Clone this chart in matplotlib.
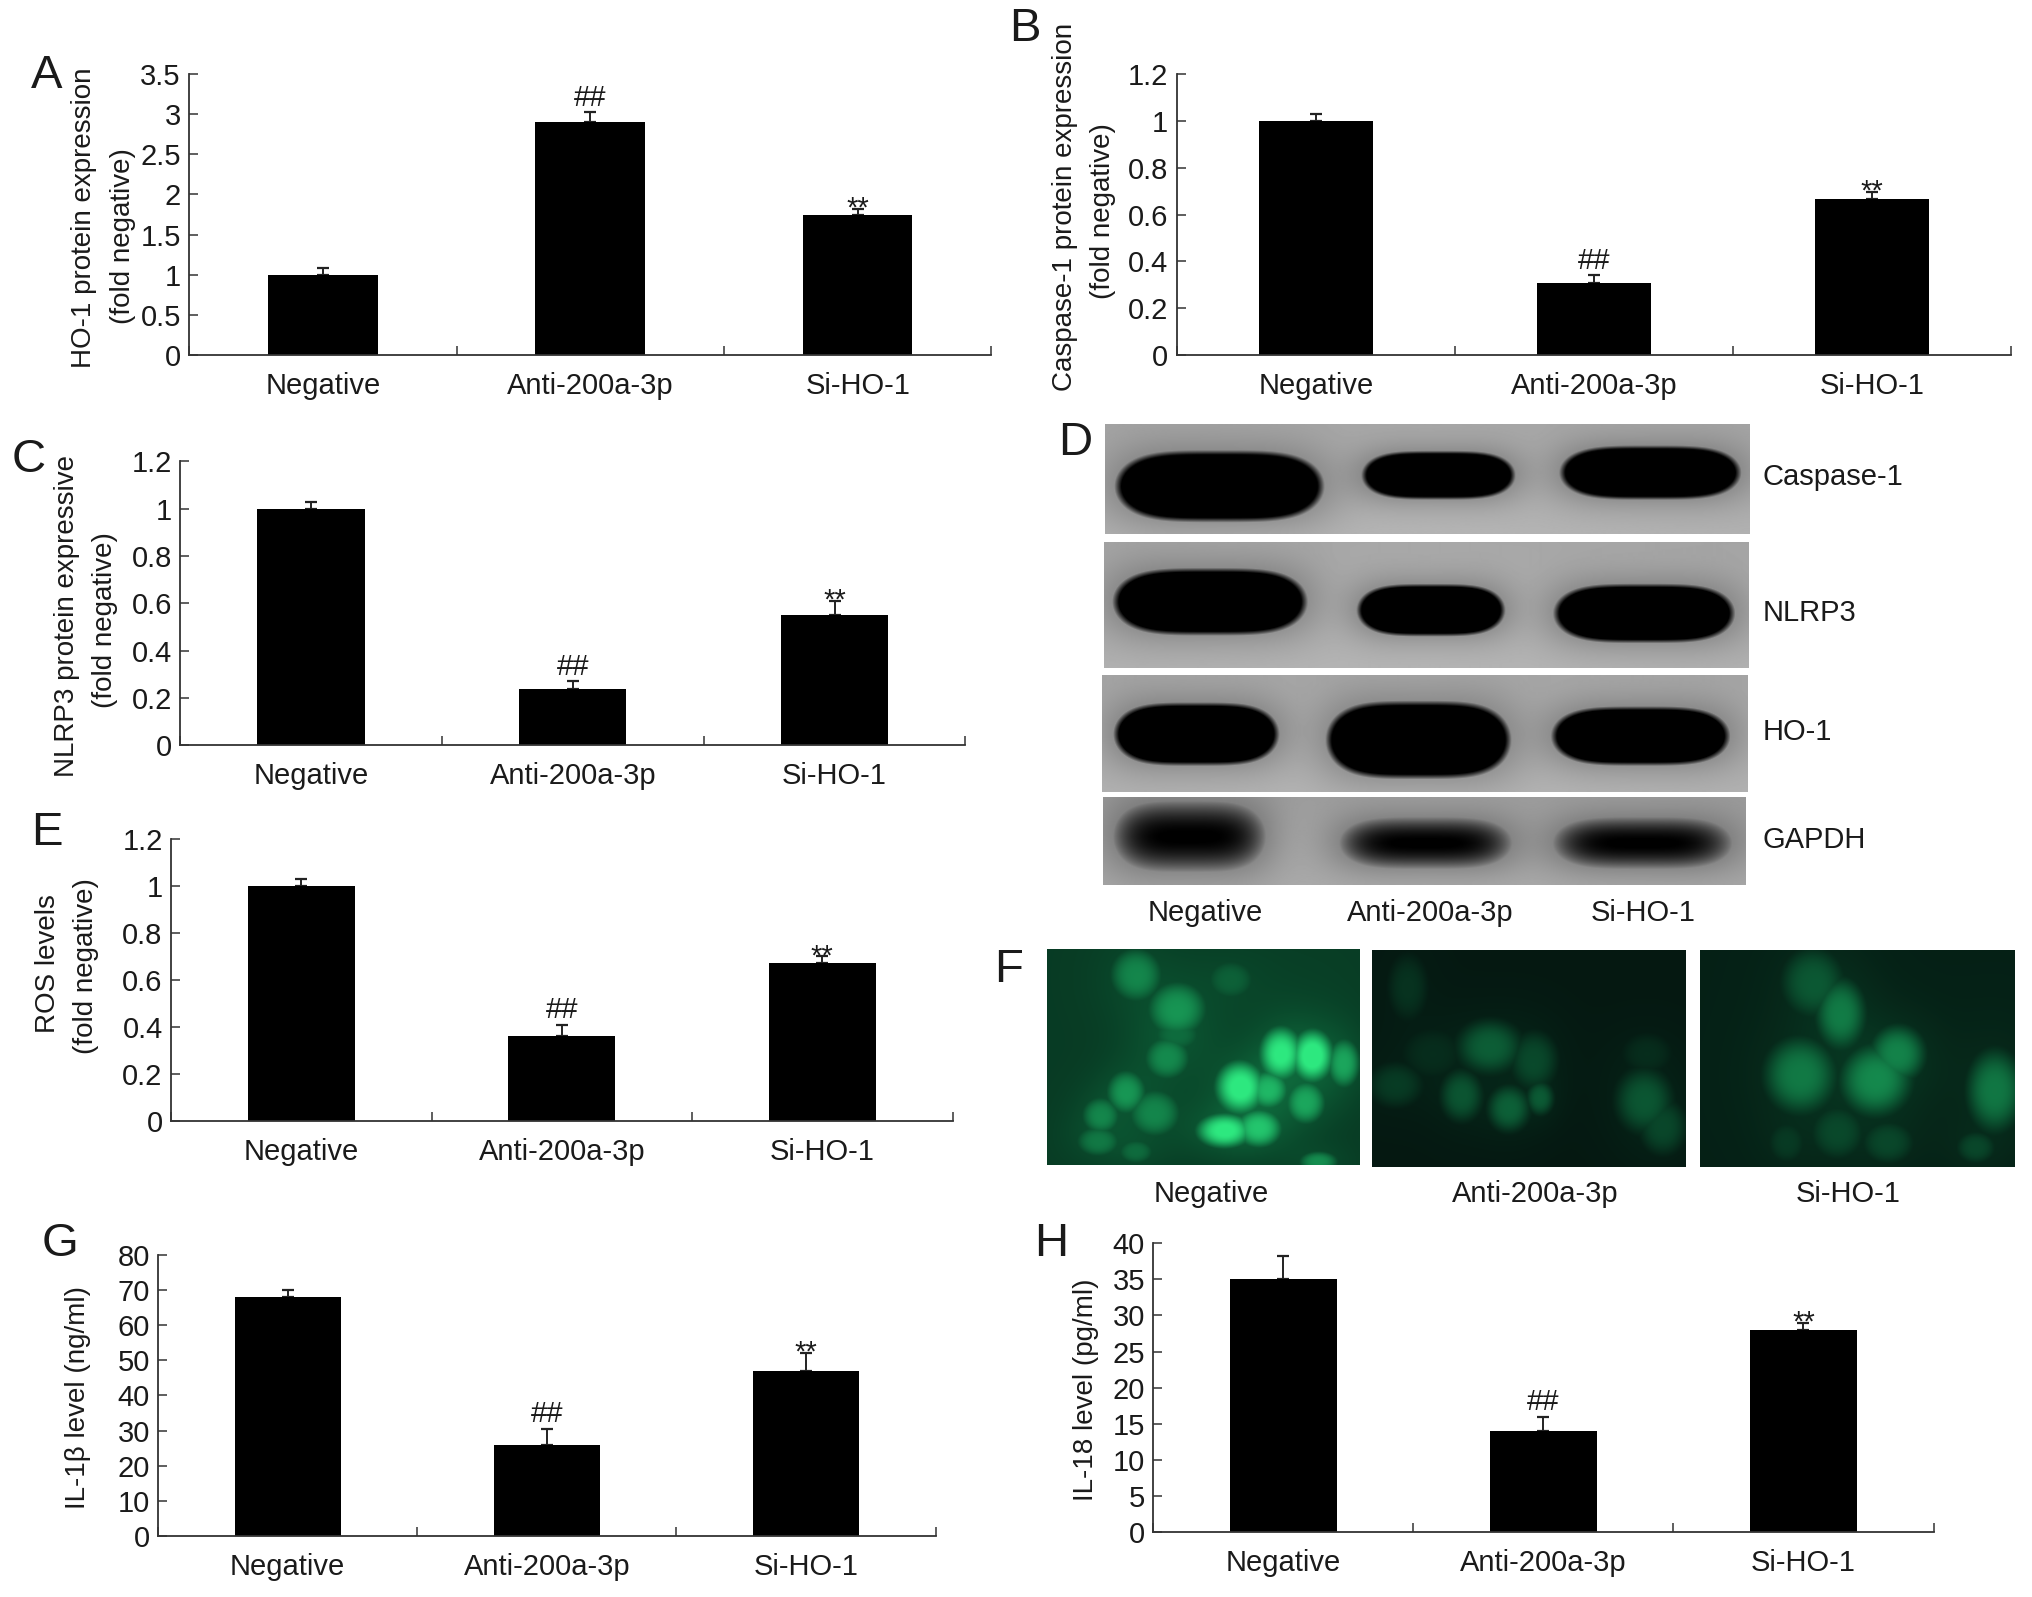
import numpy as np
import matplotlib
matplotlib.use("Agg")
import matplotlib.pyplot as plt

plt.rcParams['font.family'] = ['Liberation Sans', 'DejaVu Sans']

categories = ["Negative", "Anti-200a-3p", "Si-HO-1"]

a_values = [1.0, 2.9, 1.75]
a_errors = [0.08, 0.12, 0.07]
a_ticks = [0, 0.5, 1, 1.5, 2, 2.5, 3, 3.5]
b_values = [1.0, 0.31, 0.665]
b_errors = [0.03, 0.03, 0.03]
c_values = [1.0, 0.24, 0.55]
c_errors = [0.03, 0.03, 0.06]
e_values = [1.0, 0.36, 0.67]
e_errors = [0.03, 0.05, 0.03]
frac_ticks = [0, 0.2, 0.4, 0.6, 0.8, 1, 1.2]
g_values = [68, 26, 47]
g_errors = [2, 4.5, 5]
g_ticks = [0, 10, 20, 30, 40, 50, 60, 70, 80]
h_values = [35, 14, 28]
h_errors = [3.2, 2, 1]
h_ticks = [0, 5, 10, 15, 20, 25, 30, 35, 40]
marks = ["", "##", "**"]

W, H = 2032, 1597
TW, TH = 1568.0, 1232.0
FS = 21
AXC = '#333333'

fig = plt.figure(figsize=(W / 100, H / 100), dpi=100, facecolor='white')


def rect(x0, x1, y_top, y_bot):
    return [x0 / TW, 1 - y_bot / TH, (x1 - x0) / TW, (y_bot - y_top) / TH]


def ftext(x, y, s, size=FS, **kw):
    fig.text(x / TW, 1 - y / TH, s, fontsize=size, ha=kw.pop('ha', 'center'),
             va=kw.pop('va', 'center'), color='#1a1a1a', **kw)


def bar_panel(box, values, errors, ticks, tlabels):
    ax = fig.add_axes(rect(*box))
    xs = np.arange(len(values))
    ax.bar(xs, values, width=0.41, color='black', zorder=2)
    ax.errorbar(xs, values, yerr=[np.zeros(len(values)), errors], fmt='none',
                ecolor='#222222', elinewidth=1.4, capsize=4.5, capthick=1.6, zorder=1)
    ax.set_xlim(-0.5, 2.5)
    ax.set_ylim(ticks[0], ticks[-1])
    ax.set_yticks(ticks)
    ax.set_yticklabels(tlabels, fontsize=FS, color='#1a1a1a')
    ax.set_xticks([-0.5, 0.5, 1.5, 2.5])
    ax.set_xticklabels([])
    ax.set_xticks(xs, minor=True)
    ax.set_xticklabels(categories, minor=True, fontsize=FS, color='#1a1a1a')
    ax.tick_params(axis='y', direction='in', length=6.5, width=1.1, color=AXC, pad=6)
    ax.tick_params(axis='x', which='major', direction='in', length=6.5, width=1.1, color=AXC)
    ax.tick_params(axis='x', which='minor', length=0, pad=12)
    for s in ('top', 'right'):
        ax.spines[s].set_visible(False)
    for s in ('left', 'bottom'):
        ax.spines[s].set_color(AXC)
        ax.spines[s].set_linewidth(1.3)
    ax.patch.set_alpha(0)
    for i, m in enumerate(marks):
        if not m:
            continue
        off = 4.7 if m == "##" else -5.6
        ax.annotate(m, (xs[i], values[i] + errors[i]), xytext=(0, off),
                    textcoords='offset points', ha='center', va='baseline',
                    fontsize=FS, color='#1a1a1a')
    return ax


frac_labels = ['0', '0.2', '0.4', '0.6', '0.8', '1', '1.2']
bar_panel((146, 765, 57, 274), a_values, a_errors, a_ticks,
          ['0', '0.5', '1', '1.5', '2', '2.5', '3', '3.5'])
bar_panel((908, 1552, 57, 274), b_values, b_errors, frac_ticks, frac_labels)
bar_panel((139, 745, 356, 575), c_values, c_errors, frac_ticks, frac_labels)
bar_panel((132, 735, 647, 865), e_values, e_errors, frac_ticks, frac_labels)
bar_panel((122, 722, 968, 1185), g_values, g_errors, g_ticks, [str(t) for t in g_ticks])
bar_panel((890, 1492, 959, 1182), h_values, h_errors, h_ticks, [str(t) for t in h_ticks])

# y-axis captions
for x, y, s in [(65, 168, "HO-1 protein expression"), (95, 182, "(fold negative)"),
                (822, 160, "Caspase-1 protein expression"), (851, 163, "(fold negative)"),
                (52, 475, "NLRP3 protein expressive"), (81, 478, "(fold negative)"),
                (37, 743, "ROS levels"), (66, 745, "(fold negative)"),
                (60, 1078, "IL-1\u03b2 level (ng/ml)"), (838, 1072, "IL-18 level (pg/ml)")]:
    ftext(x, y, s, size=20, rotation=90)

# panel letters
for x, y, s in [(36, 59, 'A'), (791, 22, 'B'), (22, 355, 'C'), (830, 342, 'D'),
                (36, 643, 'E'), (778, 748, 'F'), (46, 960, 'G'), (811, 960, 'H')]:
    ftext(x, y, s, size=34)


# western blots
def blot_image(box, bands, bg=0.66, soft=0.28):
    x0, x1, yt, yb = box
    nx, ny = int((x1 - x0) * 1.3), int((yb - yt) * 1.3)
    X, Y = np.meshgrid(np.linspace(x0, x1, nx), np.linspace(yt, yb, ny))
    img = np.full(X.shape, bg) + 0.05 * (Y - yt) / (yb - yt) - 0.03 * np.abs(X - (x0 + x1) / 2) / (x1 - x0)
    for (bx0, bx1, by0, by1) in bands:
        cx, cy, a, b = (bx0 + bx1) / 2, (by0 + by1) / 2, (bx1 - bx0) / 2, (by1 - by0) / 2
        d = ((X - cx) / a) ** 4 + ((Y - cy) / b) ** 2
        dark = np.clip((1.12 - d) / soft, 0, 1)
        halo = np.exp(-np.maximum(d - 1, 0) * 0.7) * 0.12
        img = img * (1 - dark) - halo * (1 - dark)
    ax = fig.add_axes(rect(*box))
    ax.imshow(np.clip(img, 0, 1), cmap='gray', vmin=0, vmax=1, aspect='auto', interpolation='bilinear')
    ax.axis('off')


blot_image((853, 1350, 327, 412), [(862, 1020, 349, 402), (1052, 1168, 349, 385), (1205, 1342, 345, 385)])
blot_image((852, 1349, 418, 515), [(860, 1007, 439, 489), (1048, 1160, 451, 490), (1200, 1337, 451, 495)])
blot_image((850, 1348, 521, 611), [(860, 985, 543, 590), (1024, 1164, 542, 600), (1198, 1333, 546, 590)])
blot_image((851, 1347, 615, 683), [(860, 975, 620, 672), (1035, 1165, 632, 670), (1200, 1335, 632, 670)], bg=0.62, soft=1.1)

for y, s in [(368, "Caspase-1"), (473, "NLRP3"), (565, "HO-1"), (648, "GAPDH")]:
    ftext(1360, y, s, ha='left')
for x, s in zip([930, 1104, 1268], categories):
    ftext(x, 704, s)
for x, s in zip([935, 1185, 1426], categories):
    ftext(x, 921, s)

# fluorescence micrographs: cell spots as (x, y, rx, ry, brightness), zoom-read positions
f1_cells = [(150, 1100, 40, 50, .45), (215, 1165, 45, 50, .5), (300, 1110, 40, 40, .3), (420, 1110, 70, 70, .16),
            (200, 1260, 35, 40, .45), (215, 1215, 40, 35, .35), (380, 1250, 30, 45, .85), (430, 1255, 30, 45, .95),
            (480, 1270, 25, 45, .6), (315, 1315, 35, 45, .9), (360, 1320, 30, 35, .65), (420, 1345, 30, 40, .6),
            (135, 1325, 30, 40, .5), (180, 1365, 40, 45, .45), (95, 1370, 30, 35, .45), (90, 1420, 35, 30, .4),
            (290, 1400, 40, 30, .9), (345, 1395, 35, 35, .75), (440, 1460, 30, 20, .5), (150, 1440, 30, 25, .35)]
f2_cells = [(580, 1120, 30, 60, .12), (710, 1235, 45, 45, .28), (780, 1260, 35, 50, .2), (560, 1310, 40, 40, .15),
            (665, 1330, 30, 45, .25), (740, 1355, 30, 40, .3), (790, 1335, 20, 30, .28), (955, 1340, 40, 55, .25),
            (985, 1390, 35, 50, .2), (620, 1250, 50, 50, .1), (960, 1250, 40, 40, .1)]
f3_cells = [(1220, 1110, 45, 60, .25), (1265, 1170, 35, 60, .4), (1200, 1290, 50, 65, .4), (1320, 1300, 50, 60, .45),
            (1355, 1250, 40, 50, .45), (1510, 1320, 40, 70, .4), (1260, 1400, 40, 50, .2), (1340, 1420, 40, 40, .2),
            (1480, 1430, 30, 30, .2), (1180, 1420, 30, 40, .15)]


def micrograph(box, zbox, cells, base):
    zx0, zx1, zy0, zy1 = zbox
    X, Y = np.meshgrid(np.linspace(zx0, zx1, 250), np.linspace(zy0, zy1, 180))
    v = np.full(X.shape, base)
    for cx, cy, rx, ry, amp in cells:
        d = ((X - cx) / rx) ** 2 + ((Y - cy) / ry) ** 2
        v = np.maximum(v, amp * np.exp(-d ** 1.6 * 0.9))
        v = v + amp * 0.10 * np.exp(-d * 0.3)
    v = np.clip(v, 0, 1)
    rgb = np.stack([0.02 + 0.16 * v ** 1.5, 0.06 + 0.85 * v ** 0.9, 0.05 + 0.45 * v ** 0.9], axis=-1)
    ax = fig.add_axes(rect(*box))
    ax.imshow(np.clip(rgb, 0, 1), aspect='auto', interpolation='bilinear')
    ax.axis('off')


micrograph((808, 1049, 732, 899), (10, 505, 1050, 1465), f1_cells, 0.17)
micrograph((1059, 1301, 733, 900), (524, 1021, 1050, 1467), f2_cells, 0.03)
micrograph((1312, 1555, 733, 900), (1043, 1541, 1050, 1467), f3_cells, 0.06)

fig.savefig("out.png", dpi=100, facecolor='white')
